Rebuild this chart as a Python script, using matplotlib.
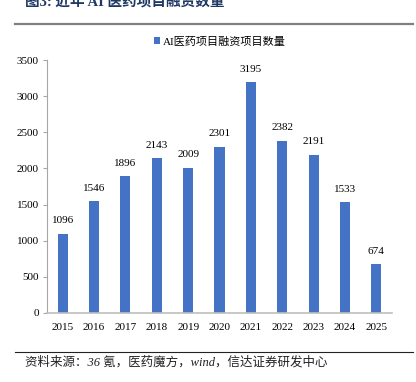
import matplotlib
matplotlib.use("Agg")
import matplotlib.pyplot as plt

years = ["2015", "2016", "2017", "2018", "2019", "2020", "2021", "2022", "2023", "2024", "2025"]
counts = [1096, 1546, 1896, 2143, 2009, 2301, 3195, 2382, 2191, 1533, 674]
yticks = [0, 500, 1000, 1500, 2000, 2500, 3000, 3500]
series_name = "AI医药项目融资项目数量"
title = "图3: 近年 AI 医药项目融资数量"
source = "资料来源：36 氪，医药魔方，wind，信达证券研发中心"

FAM = ["Liberation Serif", "Noto Sans CJK SC", "DejaVu Sans"]
plt.rcParams["font.family"] = FAM

W, H = 416, 382
fig = plt.figure(figsize=(W / 100, H / 100), dpi=100)

ax = fig.add_axes([47 / W, 1 - 313 / H, (392 - 47) / W, (313 - 60) / H])
x = list(range(len(years)))
bars = ax.bar(x, counts, width=0.32, color="#4472C4", label=series_name)
ax.set_xlim(-0.5, len(years) - 0.5)
ax.set_ylim(0, 3500)
ax.set_yticks(yticks)
ax.set_xticks(x)
ax.set_xticklabels(years)
for s in ["top", "right"]:
    ax.spines[s].set_visible(False)
ax.spines["left"].set_color("#A6A6A6")
ax.spines["bottom"].set_color("#BFBFBF")
ax.spines["left"].set_linewidth(0.8)
ax.spines["bottom"].set_linewidth(1.2)
ax.tick_params(axis="y", length=3, color="#A6A6A6", labelsize=8, pad=3)
ax.tick_params(axis="x", length=0, labelsize=8, pad=7)

for xi, v in zip(x, counts):
    ax.annotate(str(v), (xi, v), xytext=(0, 6), textcoords="offset points",
                ha="center", va="bottom", fontsize=8)

leg = ax.legend(loc="upper center", bbox_to_anchor=(0.5, 1.11), frameon=False,
                fontsize=8, handlelength=0.6, handleheight=0.6, handletextpad=0.2,
                borderaxespad=0)

# title (partially clipped at top, as in the reference)
fig.text(25 / W, 1 - 7 / H, title, fontsize=10.5, fontweight="bold",
         color="#1F3864", ha="left", va="baseline")
# separator line under title
fig.add_artist(plt.Line2D([15 / W, 413 / W], [1 - 24 / H, 1 - 24 / H],
                          color="#808080", linewidth=1.6))
# footer line
fig.add_artist(plt.Line2D([15 / W, 413 / W], [1 - 352 / H, 1 - 352 / H],
                          color="#222222", linewidth=0.8))
fig.text(25 / W, 1 - 362 / H, source, fontsize=9, style="italic",
         ha="left", va="center", color="#222222")

fig.savefig("out.png", dpi=100)
